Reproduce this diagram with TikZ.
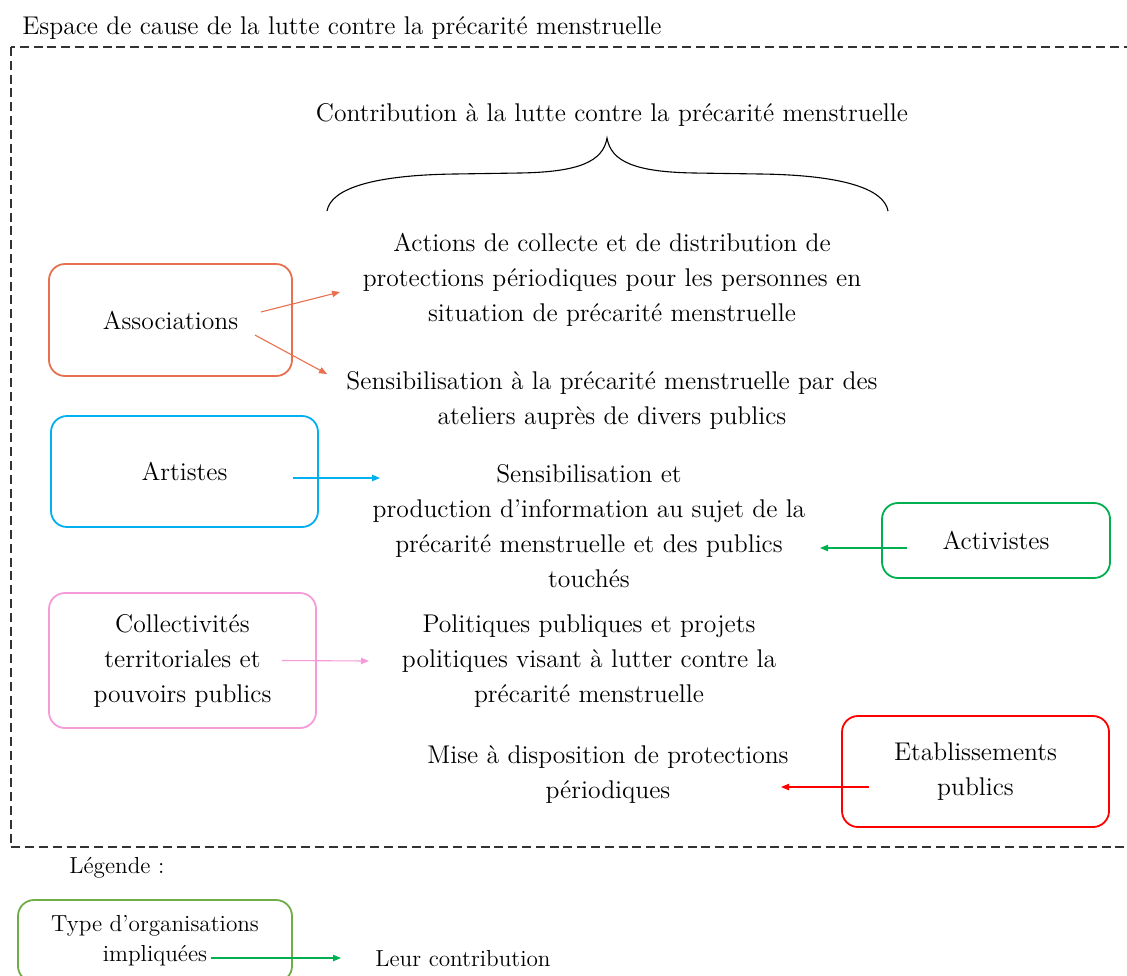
\documentclass[tikz,border=0pt]{standalone}
\usepackage{tikz}
\usetikzlibrary{arrows.meta,positioning,calc}
\definecolor{mensorange}{HTML}{E8704F}
\definecolor{mensblue}{HTML}{00B0F0}
\definecolor{mensgreen}{HTML}{00B050}
\definecolor{menspink}{HTML}{F59BD9}
\definecolor{mensred}{HTML}{FF0000}
\definecolor{mensleaf}{HTML}{70AD47}
\definecolor{mensgray}{HTML}{333333}

\begin{document}
\begin{tikzpicture}[
    x=0.5pt,y=-0.5pt,
    box/.style  = {rectangle,rounded corners=8pt,line width=0.9pt,
                   align=center,font=\fontsize{12.8}{17.5}\selectfont},
    txt/.style  = {align=center,inner sep=0pt,font=\fontsize{12.8}{17.5}\selectfont},
    lgd/.style  = {align=center,inner sep=0pt,font=\fontsize{11.6}{15}\selectfont},
    fl/.style   = {-{Triangle[length=4pt,width=3.2pt]},line width=0.55pt},
    frame/.style= {draw=mensgray,line width=0.9pt,dash pattern=on 4.5pt off 2.4pt},
  ]
  \useasboundingbox (0,0) rectangle (1127,975);

  % espace de cause
  \node[txt,anchor=base west] (titre) at (22,34)
       {Espace de cause de la lutte contre la précarité menstruelle};
  \draw[frame] (11,47) rectangle (1145,847);

  \node[txt] (contrib) at (612,115)
       {Contribution à la lutte contre la précarité menstruelle};
  \draw[line width=0.55pt] (327,211) .. controls (331,188) and (375,175) .. (455,174)
       -- (520,173) .. controls (578,172) and (603,162) .. (607,138)
       .. controls (611,162) and (636,172) .. (694,173) -- (760,174)
       .. controls (840,175) and (884,188) .. (888,211);

  % organisations
  \node[box,draw=mensorange,minimum width=121.5pt,minimum height=56pt]
       (assoc) at (170.5,320) {Associations};
  \node[box,draw=mensblue,minimum width=133.5pt,minimum height=55.5pt]
       (artistes) at (184.5,471.5) {Artistes};
  \node[box,draw=mensgreen,minimum width=114pt,minimum height=37.5pt]
       (activ) at (996,540.5) {Activistes};
  \node[box,draw=menspink,minimum width=133.5pt,minimum height=67.5pt]
       (collect) at (182.5,660.5) {Collectivités\\territoriales et\\pouvoirs publics};
  \node[box,draw=mensred,minimum width=133.5pt,minimum height=55.5pt]
       (etab) at (975.5,771.5) {Etablissements\\publics};

  % contributions
  \node[txt] (actions) at (612,280) {Actions de collecte et de distribution de\\
       protections périodiques pour les personnes en\\situation de précarité menstruelle};
  \node[txt] (ateliers) at (612,400) {Sensibilisation à la précarité menstruelle par des\\
       ateliers auprès de divers publics};
  \node[txt] (info) at (589,526) {Sensibilisation et\\production d’information au sujet de la\\
       précarité menstruelle et des publics\\touchés};
  \node[txt] (polit) at (589,661) {Politiques publiques et projets\\
       politiques visant à lutter contre la\\précarité menstruelle};
  \node[txt] (mise) at (608,775) {Mise à disposition de protections\\périodiques};

  \draw[fl,mensorange] ([shift={(-32,-8)}]assoc.east) -- ([shift={(-272,12)}]actions.center);
  \draw[fl,mensorange] ([shift={(-38,15)}]assoc.east) -- ([shift={(-285,-26)}]ateliers.center);
  \draw[fl,mensblue] ([shift={(-26,6.5)}]artistes.east) -- ([shift={(-209,-48)}]info.center);
  \draw[fl,mensgreen] ([shift={(26,7.5)}]activ.west) -- ([shift={(231,22)}]info.center);
  \draw[fl,menspink] ([shift={(-35,0)}]collect.east) -- ([shift={(-220,0)}]polit.center);
  \draw[fl,mensred] ([shift={(28,15.5)}]etab.west) -- ([shift={(173,12)}]mise.center);

  % legende
  \node[lgd,anchor=west] (legende) at (69,868) {Légende :};
  \node[box,draw=mensleaf,font=\fontsize{11.6}{15}\selectfont,
        minimum width=137pt,minimum height=41pt]
       (type) at (155,941) {Type d’organisations\\impliquées};
  \node[lgd] (leur) at (463,959) {Leur contribution};
  \draw[fl,mensgreen] ([shift={(-82,17)}]type.east) -- ([shift={(-122,-1)}]leur.center);

\end{tikzpicture}
\end{document}
